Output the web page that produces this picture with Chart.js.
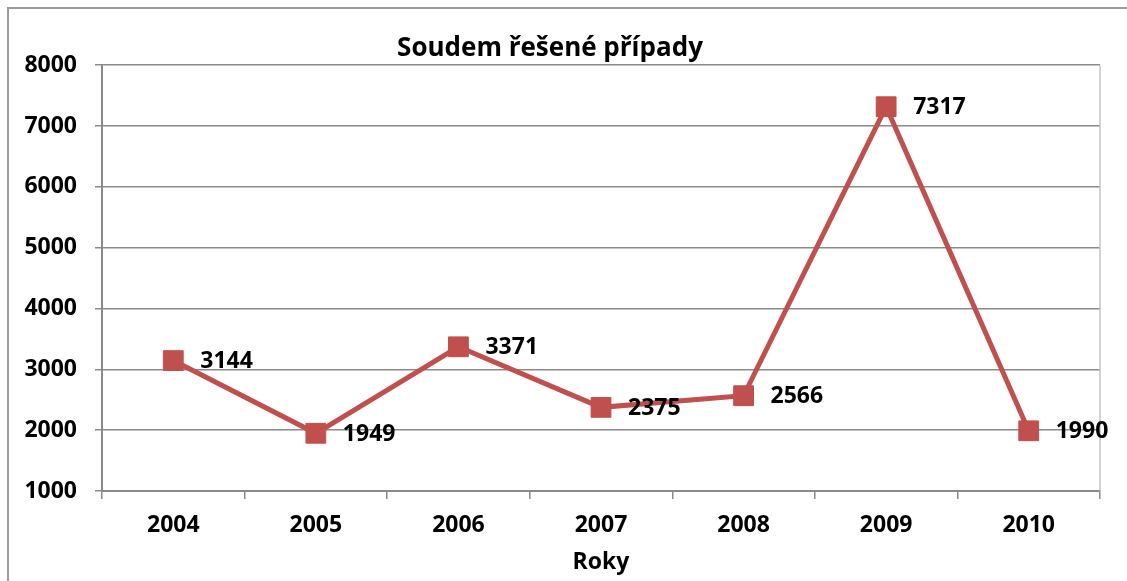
<!DOCTYPE html>
<html>
<head>
<meta charset="utf-8">
<script src="https://cdn.jsdelivr.net/npm/chart.js@4/dist/chart.umd.min.js"></script>
<style>
    body { margin: 0; background: #fff; }
    canvas { display: block; }
</style>
</head>
<body>
<canvas id="chart" width="1127" height="581"></canvas>
<script>
const years = ['2004', '2005', '2006', '2007', '2008', '2009', '2010'];
const cases = [3144, 1949, 3371, 2375, 2566, 7317, 1990];
const yTicks = [1000, 2000, 3000, 4000, 5000, 6000, 7000, 8000];

const FONT = '"Open Sans", "DejaVu Sans", sans-serif';
const RED = '#C0504D';

// rámeček kolem grafu + pravý okraj plochy
const framePlugin = {
    id: 'frame',
    beforeDraw(chart) {
        const ctx = chart.ctx;
        ctx.save();
        ctx.strokeStyle = '#9a9a9a';
        ctx.lineWidth = 2;
        ctx.beginPath();
        ctx.moveTo(8, 581);
        ctx.lineTo(8, 8);
        ctx.lineTo(1127, 8);
        ctx.stroke();
        ctx.restore();
    },
    beforeDatasetsDraw(chart) {
        const a = chart.chartArea;
        const ctx = chart.ctx;
        ctx.save();
        ctx.strokeStyle = '#c4c4c4';
        ctx.lineWidth = 1.5;
        ctx.beginPath();
        ctx.moveTo(a.right, a.top);
        ctx.lineTo(a.right, a.bottom);
        ctx.stroke();
        ctx.restore();
    }
};

// popisky hodnot vpravo od bodů
const valueLabels = {
    id: 'valueLabels',
    afterDatasetsDraw(chart) {
        const ctx = chart.ctx;
        const meta = chart.getDatasetMeta(0);
        ctx.save();
        ctx.font = 'bold 23px ' + FONT;
        ctx.fillStyle = '#000';
        ctx.textAlign = 'left';
        ctx.textBaseline = 'middle';
        meta.data.forEach(function(pt, i) {
            ctx.fillText(String(cases[i]), pt.x + 27, pt.y + 1);
        });
        ctx.restore();
    }
};

new Chart(document.getElementById('chart'), {
    type: 'line',
    data: {
        labels: years,
        datasets: [{
            data: cases,
            borderColor: RED,
            borderWidth: 5,
            pointStyle: 'rect',
            pointRadius: 14,
            pointHoverRadius: 14,
            pointBackgroundColor: RED,
            pointBorderColor: RED,
            pointBorderWidth: 1,
            tension: 0
        }]
    },
    options: {
        responsive: false,
        animation: false,
        layout: { padding: { left: 0, right: 27, top: 0, bottom: 0 } },
        plugins: {
            legend: { display: false },
            tooltip: { enabled: false },
            title: {
                display: true,
                text: 'Soudem řešené případy',
                color: '#000',
                font: { family: FONT, size: 26, weight: 'bold', lineHeight: 1.2 },
                padding: { top: 33, bottom: 1 }
            }
        },
        scales: {
            x: {
                offset: true,
                grid: {
                    offset: true,
                    drawOnChartArea: false,
                    drawTicks: true,
                    tickLength: 8,
                    color: '#8a8a8a',
                    lineWidth: 1.5
                },
                border: { color: '#8a8a8a', width: 2 },
                ticks: {
                    color: '#000',
                    padding: 13,
                    font: { family: FONT, size: 23, weight: 'bold' }
                },
                title: {
                    display: true,
                    text: 'Roky',
                    color: '#000',
                    font: { family: FONT, size: 23, weight: 'bold', lineHeight: 1.2 },
                    padding: { top: 0, bottom: 5 }
                },
                afterFit(scale) { scale.height = 90; }
            },
            y: {
                min: 1000,
                max: 8000,
                afterBuildTicks(scale) {
                    scale.ticks = yTicks.map(v => ({ value: v }));
                },
                grid: {
                    color: '#8a8a8a',
                    lineWidth: 1.5,
                    drawTicks: true,
                    tickLength: 7
                },
                border: { color: '#8a8a8a', width: 2 },
                ticks: {
                    color: '#000',
                    padding: 18,
                    font: { family: FONT, size: 23, weight: 'bold' },
                    callback: v => String(v)
                },
                afterFit(scale) { scale.width = 102; }
            }
        }
    },
    plugins: [framePlugin, valueLabels]
});
</script>
</body>
</html>
